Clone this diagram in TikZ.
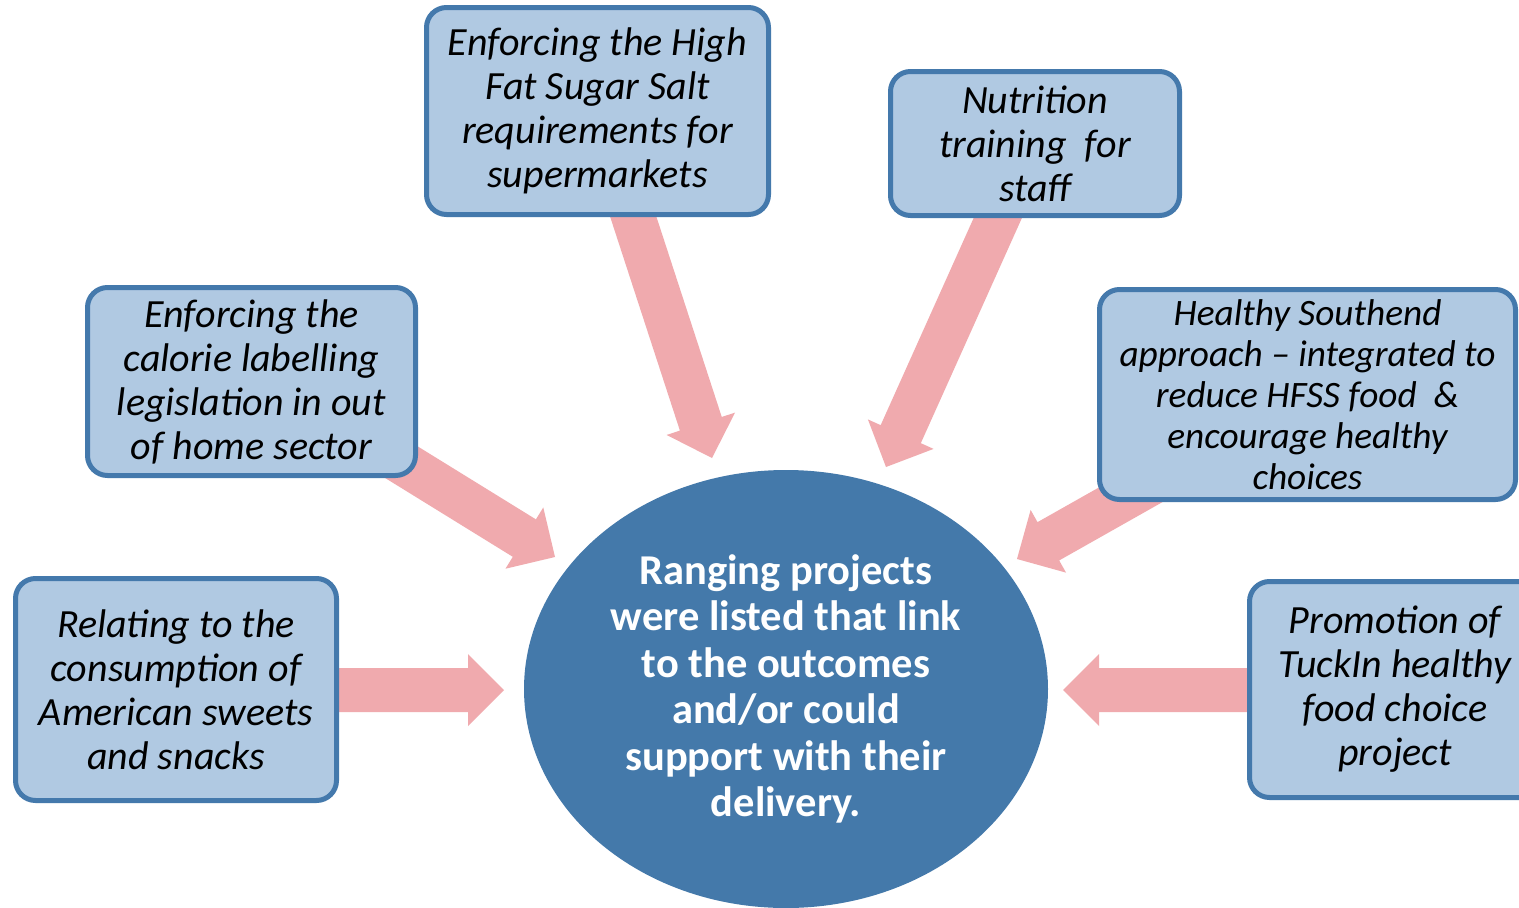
\documentclass[tikz,border=0pt]{standalone}
\usepackage{fontspec}
\setmainfont{Carlito}
\usetikzlibrary{calc,shapes.geometric}
\definecolor{boxfill}{HTML}{B0C9E2}
\definecolor{boxline}{HTML}{4479AC}
\definecolor{ellfill}{HTML}{4479AA}
\definecolor{arrfill}{HTML}{F0AAAE}
% #1 start coordinate, #2 tip coordinate, #3 unique name
\newcommand\fatarrow[3]{%
  \coordinate (#3b) at ($(#2)!36pt!(#1)$);
  \fill[arrowfill] ($(#1)!22pt!90:(#2)$) -- ($(#3b)!22pt!-90:(#1)$) -- ($(#3b)!36pt!-90:(#1)$)
    -- (#2) -- ($(#3b)!36pt!90:(#1)$) -- ($(#3b)!22pt!90:(#1)$) -- ($(#1)!22pt!-90:(#2)$) -- cycle;}
\begin{document}
\begin{tikzpicture}[x=1pt,y=-1pt,
  arrowfill/.style={fill=arrfill},
  infobox/.style={draw=boxline, fill=boxfill, line width=5pt, rounded corners=20pt,
    inner sep=0pt, align=center, font=\fontsize{40pt}{44pt}\selectfont\itshape},
  hubnode/.style={ellipse, fill=ellfill, inner sep=0pt, align=center, text=white,
    font=\fontsize{42.5pt}{46.5pt}\selectfont\bfseries}]
\useasboundingbox (0,0) rectangle (1519,908);
\fill[white] (0,0) rectangle (1519,908);
\begin{scope}
\clip (0,0) rectangle (1519,908);
% connector end points
\coordinate (s1) at (619,173);  \coordinate (t1) at (712,458);
\coordinate (s2) at (1009,193); \coordinate (t2) at (886,467);
\coordinate (s3) at (359,436);  \coordinate (t3) at (555,557);
\coordinate (s4) at (1217,446); \coordinate (t4) at (1017,559);
\coordinate (s5) at (300,690);  \coordinate (t5) at (504,690);
\coordinate (s6) at (1290,690); \coordinate (t6) at (1063,690);
\fatarrow{s1}{t1}{a1}
\fatarrow{s2}{t2}{a2}
\fatarrow{s3}{t3}{a3}
\fatarrow{s4}{t4}{a4}
\fatarrow{s5}{t5}{a5}
\fatarrow{s6}{t6}{a6}
% hub
\node[hubnode, minimum width=524pt, minimum height=438pt] (hub) at (786,689)
  {Ranging projects\\were listed that link\\to the outcomes\\and/or could\\support with their\\delivery.};
% boxes
\node[infobox, minimum width=342pt, minimum height=207pt] (hfss) at (597.5,111)
  {Enforcing the High\\Fat Sugar Salt\\requirements for\\supermarkets};
\node[infobox, minimum width=289pt, minimum height=144pt] (nutr) at (1035,143.5)
  {Nutrition\\training\ \ for\\staff};
\node[infobox, minimum width=328pt, minimum height=188pt] (cal) at (251.5,381.5)
  {Enforcing the\\calorie labelling\\legislation in out\\of home sector};
\node[infobox, minimum width=416pt, minimum height=210pt,
  font=\fontsize{37.3pt}{41pt}\selectfont\itshape] (south) at (1307.5,394.5)
  {Healthy Southend\\approach -- integrated to\\reduce HFSS food\ \ \&\\encourage healthy\\choices};
\node[infobox, minimum width=321pt, minimum height=222pt] (amer) at (176,689.5)
  {Relating to the\\consumption of\\American sweets\\and snacks};
\node[infobox, minimum width=291pt, minimum height=216pt] (tuck) at (1395,689.5)
  {Promotion of\\TuckIn healthy\\food choice\\project};
\end{scope}
\end{tikzpicture}
\end{document}
